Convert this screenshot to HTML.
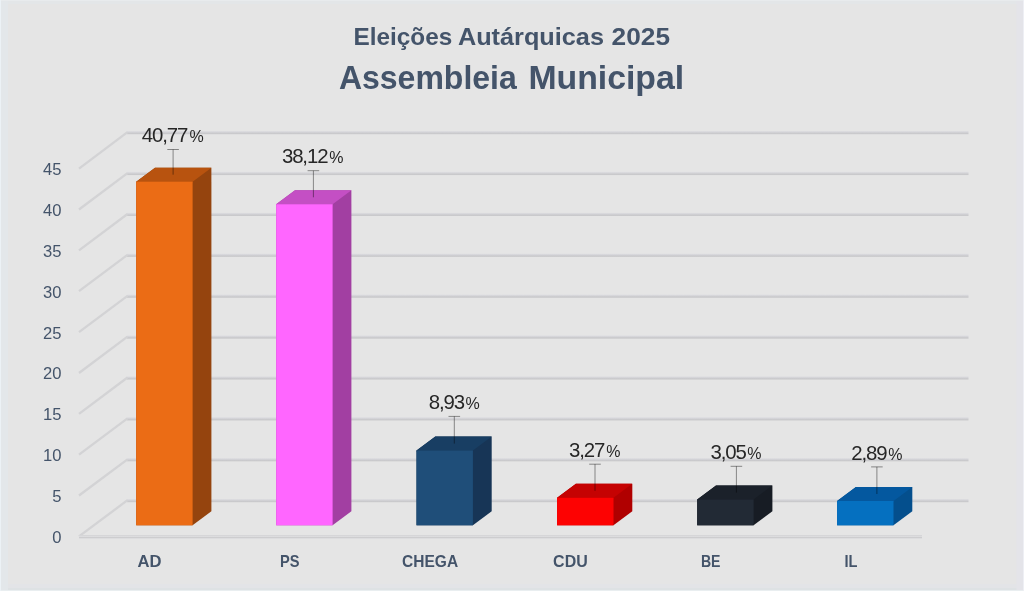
<!DOCTYPE html>
<html lang="pt"><head><meta charset="utf-8"><title>Eleições Autárquicas 2025 - Assembleia Municipal</title>
<style>
html,body{margin:0;padding:0;background:#e5e5e5;}
body{width:1024px;height:591px;overflow:hidden;}
svg{display:block;}
text{font-family:"Liberation Sans",sans-serif;}
.t{font-weight:bold;fill:#44546a;}
.y{fill:#44546a;font-size:16.6px;text-anchor:end;}
.c{font-weight:bold;fill:#44546a;font-size:16.6px;text-anchor:middle;}
.v{fill:#262626;font-size:20.4px;text-anchor:start;letter-spacing:-1.1px;}
.p{fill:#262626;font-size:16px;text-anchor:end;}
</style></head><body>
<svg width="1024" height="591" viewBox="0 0 1024 591">
<defs>
<linearGradient id="gl" x1="0" y1="0" x2="0" y2="1"><stop offset="0" stop-color="#dfdfe2"/><stop offset="0.35" stop-color="#d5d5d9"/><stop offset="0.65" stop-color="#cbcbce"/><stop offset="1" stop-color="#c7c7c9"/></linearGradient>
<linearGradient id="fl" x1="0" y1="0" x2="0" y2="1"><stop offset="0" stop-color="#d6d6d8"/><stop offset="0.25" stop-color="#d6d6d8"/><stop offset="0.4" stop-color="#dedee0"/><stop offset="0.5" stop-color="#dedee0"/><stop offset="0.6" stop-color="#cdcdcf"/><stop offset="0.75" stop-color="#cdcdcf"/><stop offset="0.85" stop-color="#dddddf"/><stop offset="1" stop-color="#dddddf"/></linearGradient>
</defs>
<rect width="1024" height="591" fill="#e5e5e5"/>
<rect x="0" y="0" width="1024" height="4" fill="#e3e6e8"/>
<rect x="0" y="584" width="1024" height="7" fill="#e3e4e7"/>
<rect x="0" y="588" width="1024" height="3" fill="#dee2e4"/>
<rect x="0" y="0" width="8" height="591" fill="#e3e7ea"/>
<rect x="1016.5" y="0" width="7.5" height="591" fill="#e4e4e9"/>
<rect x="0" y="0" width="1024" height="1" fill="#e8ebed"/>
<rect x="0" y="590" width="1024" height="1" fill="#e9eef0"/>
<rect x="0" y="0" width="1" height="591" fill="#ecf2f6"/>
<rect x="1023" y="0" width="1" height="591" fill="#eeeff4"/>

<text class="t" x="353.50" y="45.3" font-size="24" textLength="98.70" lengthAdjust="spacingAndGlyphs">Eleições</text>
<text class="t" x="457.90" y="45.3" font-size="24" textLength="146.10" lengthAdjust="spacingAndGlyphs">Autárquicas</text>
<text class="t" x="611.60" y="45.3" font-size="24" textLength="58.40" lengthAdjust="spacingAndGlyphs">2025</text>
<text class="t" x="338.90" y="89.1" font-size="32.8" textLength="177.90" lengthAdjust="spacingAndGlyphs">Assembleia</text>
<text class="t" x="528.40" y="89.1" font-size="32.8" textLength="155.80" lengthAdjust="spacingAndGlyphs">Municipal</text>
<rect x="127" y="499.00" width="841.5" height="3.2" fill="url(#gl)"/>
<line x1="127.5" y1="500.2" x2="79" y2="536.4" stroke="#d3d3d5" stroke-width="2.3"/>
<text class="y" x="61.5" y="542.8">0</text>
<rect x="127" y="458.11" width="841.5" height="3.2" fill="url(#gl)"/>
<line x1="127.5" y1="459.3" x2="79" y2="495.5" stroke="#d3d3d5" stroke-width="2.3"/>
<text class="y" x="61.5" y="501.9">5</text>
<rect x="127" y="417.22" width="841.5" height="3.2" fill="url(#gl)"/>
<line x1="127.5" y1="418.4" x2="79" y2="454.7" stroke="#d3d3d5" stroke-width="2.3"/>
<text class="y" x="61.5" y="461.1">10</text>
<rect x="127" y="376.33" width="841.5" height="3.2" fill="url(#gl)"/>
<line x1="127.5" y1="377.5" x2="79" y2="413.8" stroke="#d3d3d5" stroke-width="2.3"/>
<text class="y" x="61.5" y="420.2">15</text>
<rect x="127" y="335.44" width="841.5" height="3.2" fill="url(#gl)"/>
<line x1="127.5" y1="336.6" x2="79" y2="373.0" stroke="#d3d3d5" stroke-width="2.3"/>
<text class="y" x="61.5" y="379.4">20</text>
<rect x="127" y="294.55" width="841.5" height="3.2" fill="url(#gl)"/>
<line x1="127.5" y1="295.8" x2="79" y2="332.1" stroke="#d3d3d5" stroke-width="2.3"/>
<text class="y" x="61.5" y="338.5">25</text>
<rect x="127" y="253.66" width="841.5" height="3.2" fill="url(#gl)"/>
<line x1="127.5" y1="254.9" x2="79" y2="291.2" stroke="#d3d3d5" stroke-width="2.3"/>
<text class="y" x="61.5" y="297.6">30</text>
<rect x="127" y="212.77" width="841.5" height="3.2" fill="url(#gl)"/>
<line x1="127.5" y1="214.0" x2="79" y2="250.4" stroke="#d3d3d5" stroke-width="2.3"/>
<text class="y" x="61.5" y="256.8">35</text>
<rect x="127" y="171.88" width="841.5" height="3.2" fill="url(#gl)"/>
<line x1="127.5" y1="173.1" x2="79" y2="209.5" stroke="#d3d3d5" stroke-width="2.3"/>
<text class="y" x="61.5" y="215.9">40</text>
<rect x="127" y="130.99" width="841.5" height="3.2" fill="url(#gl)"/>
<line x1="127.5" y1="132.2" x2="79" y2="168.7" stroke="#d3d3d5" stroke-width="2.3"/>
<text class="y" x="61.5" y="175.1">45</text>
<rect x="79" y="535" width="843" height="4" fill="url(#fl)"/>
<polygon points="136.2,181.7 155.0,167.7 211.4,167.7 211.4,511.3 192.6,525.3 136.2,525.3" fill="#95440e"/>
<polygon points="136.2,182.7 136.2,181.7 155.0,167.7 211.4,167.7 192.6,181.7 192.6,182.7" fill="#b8530f"/>
<rect x="136.2" y="181.7" width="56.4" height="343.6" fill="#eb6c15"/>
<path d="M173.1 174.7V149.5M167.3 149.5H178.9" stroke="#000" stroke-width="1" fill="none" opacity="0.42"/>
<text class="v" x="141.70" y="142.0">40,77</text>
<text class="p" x="203.70" y="142.0">%</text>
<text class="c" x="149.5" y="566.9" textLength="24.0" lengthAdjust="spacingAndGlyphs">AD</text>
<polygon points="276.2,204.3 295.0,190.3 351.4,190.3 351.4,511.3 332.6,525.3 276.2,525.3" fill="#a23fa2"/>
<polygon points="276.2,205.3 276.2,204.3 295.0,190.3 351.4,190.3 332.6,204.3 332.6,205.3" fill="#c44fc4"/>
<rect x="276.2" y="204.3" width="56.4" height="321.0" fill="#ff66ff"/>
<path d="M313.4 197.3V170.7M307.6 170.7H319.2" stroke="#000" stroke-width="1" fill="none" opacity="0.42"/>
<text class="v" x="281.90" y="163.4">38,12</text>
<text class="p" x="343.60" y="163.4">%</text>
<text class="c" x="289.8" y="566.9" textLength="19.5" lengthAdjust="spacingAndGlyphs">PS</text>
<polygon points="416.5,450.6 435.3,436.6 491.7,436.6 491.7,511.3 472.9,525.3 416.5,525.3" fill="#173556"/>
<polygon points="416.5,451.6 416.5,450.6 435.3,436.6 491.7,436.6 472.9,450.6 472.9,451.6" fill="#183e63"/>
<rect x="416.5" y="450.6" width="56.4" height="74.7" fill="#1f4e79"/>
<path d="M454.3 443.6V416.4M448.5 416.4H460.1" stroke="#000" stroke-width="1" fill="none" opacity="0.42"/>
<text class="v" x="428.70" y="409.2">8,93</text>
<text class="p" x="479.80" y="409.2">%</text>
<text class="c" x="430.1" y="566.9" textLength="56.0" lengthAdjust="spacingAndGlyphs">CHEGA</text>
<polygon points="557.1,497.8 575.9,483.8 632.3,483.8 632.3,511.3 613.5,525.3 557.1,525.3" fill="#b00000"/>
<polygon points="557.1,498.8 557.1,497.8 575.9,483.8 632.3,483.8 613.5,497.8 613.5,498.8" fill="#c50202"/>
<rect x="557.1" y="497.8" width="56.4" height="27.5" fill="#fd0202"/>
<path d="M595.0 490.8V464.2M589.2 464.2H600.8" stroke="#000" stroke-width="1" fill="none" opacity="0.42"/>
<text class="v" x="568.90" y="456.8">3,27</text>
<text class="p" x="620.60" y="456.8">%</text>
<text class="c" x="570.4" y="566.9" textLength="34.6" lengthAdjust="spacingAndGlyphs">CDU</text>
<polygon points="697.2,499.6 716.0,485.6 772.4,485.6 772.4,511.3 753.6,525.3 697.2,525.3" fill="#171c24"/>
<polygon points="697.2,500.6 697.2,499.6 716.0,485.6 772.4,485.6 753.6,499.6 753.6,500.6" fill="#1b212a"/>
<rect x="697.2" y="499.6" width="56.4" height="25.7" fill="#222a35"/>
<path d="M736.4 492.6V466.3M730.6 466.3H742.2" stroke="#000" stroke-width="1" fill="none" opacity="0.42"/>
<text class="v" x="710.40" y="458.6">3,05</text>
<text class="p" x="761.50" y="458.6">%</text>
<text class="c" x="710.7" y="566.9" textLength="19.6" lengthAdjust="spacingAndGlyphs">BE</text>
<polygon points="837.1,501.0 855.9,487.0 912.3,487.0 912.3,511.3 893.5,525.3 837.1,525.3" fill="#044f8d"/>
<polygon points="837.1,502.0 837.1,501.0 855.9,487.0 912.3,487.0 893.5,501.0 893.5,502.0" fill="#04589f"/>
<rect x="837.1" y="501.0" width="56.4" height="24.3" fill="#0570c0"/>
<path d="M876.9 494.0V466.9M871.1 466.9H882.7" stroke="#000" stroke-width="1" fill="none" opacity="0.42"/>
<text class="v" x="851.30" y="459.5">2,89</text>
<text class="p" x="902.50" y="459.5">%</text>
<text class="c" x="851.0" y="566.9" textLength="13.0" lengthAdjust="spacingAndGlyphs">IL</text>
</svg></body></html>
